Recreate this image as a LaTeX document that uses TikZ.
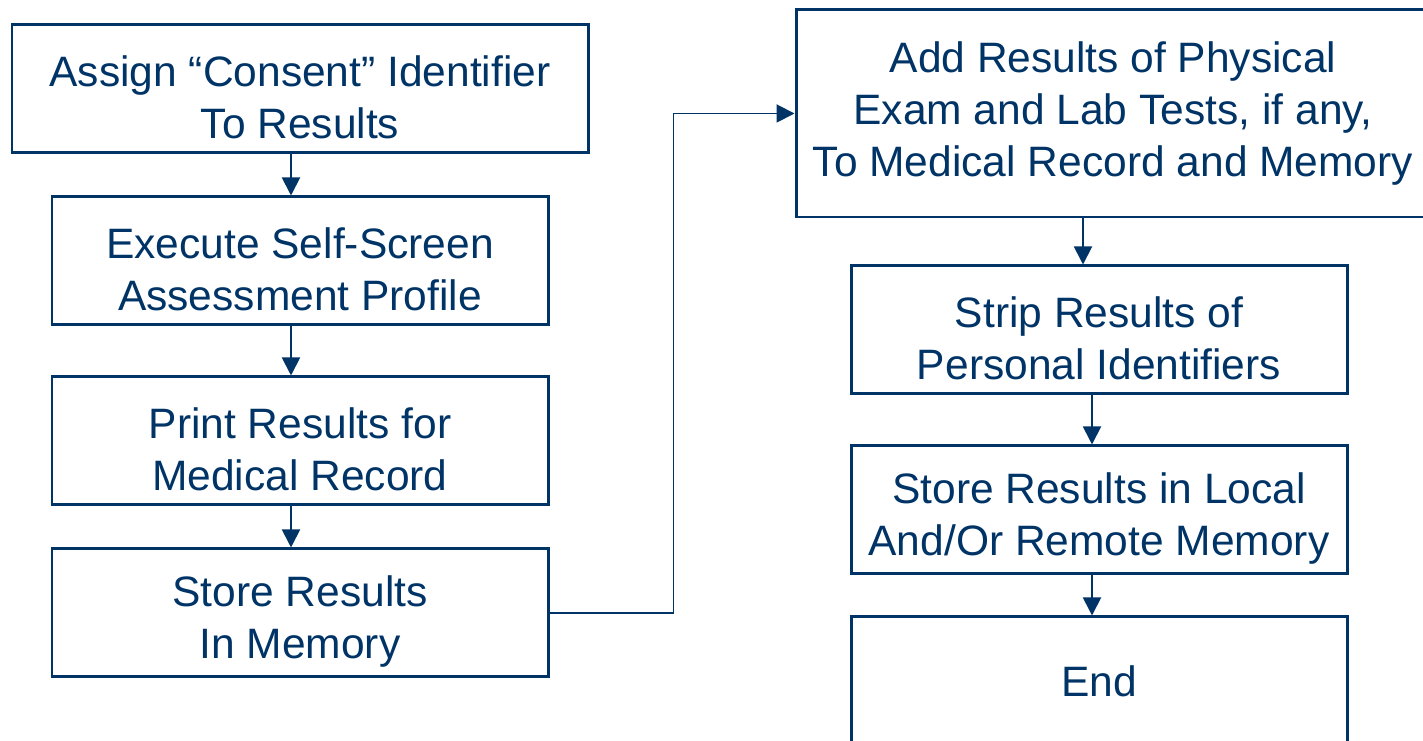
\documentclass[tikz,border=0pt]{standalone}
\usepackage{fontspec}
\setmainfont{Liberation Sans}
\usepackage{xcolor}
\usepackage{tikz}
\usetikzlibrary{arrows.meta, positioning, calc}
\definecolor{flowblue}{RGB}{0, 51, 102}
\newcommand{\lowstrut}{\rule{0pt}{0.95cm}}

\begin{document}
\begin{tikzpicture}[
        flowbox/.style={rectangle, draw=flowblue, line width=1.7pt, text=flowblue, minimum width=9.92cm, minimum height=2.56cm, align=center, inner sep=0pt, font=\fontsize{24.2}{29.6}\selectfont},
        arrow/.style={line width=1.1pt, flowblue, -{Triangle[width=0.36cm, length=0.36cm]}}
    ]
        \useasboundingbox (0,0) rectangle (28.46,-14.82);

        % Left column
        \node (assign) [flowbox, minimum width=11.52cm] at (6.00,-1.78) {\lowstrut Assign \textquotedblleft Consent\textquotedblright{} Identifier\\To Results};
        \node (execute) [flowbox, below=0.82cm of assign] {\lowstrut Execute Self-Screen\\Assessment Profile};
        \node (print) [flowbox, below=0.98cm of execute] {\lowstrut Print Results for\\Medical Record};
        \node (store) [flowbox, below=0.82cm of print] {\lowstrut Store Results\\In Memory};

        % Right column
        \node (add) [flowbox, minimum width=12.68cm, minimum height=4.14cm] at (22.26,-2.27) {Add Results of Physical\\Exam and Lab Tests, if any,\\To Medical Record and Memory};
        \node (strip) [flowbox, below=0.92cm of add, xshift=-0.28cm] {\lowstrut Strip Results of\\Personal Identifiers};
        \node (storelocal) [flowbox, below=0.98cm of strip] {\lowstrut Store Results in Local\\And/Or Remote Memory};
        \node (finish) [flowbox, below=0.80cm of storelocal] {End};

        % Arrows
        \draw [arrow] ([xshift=-0.18cm]execute.north |- assign.south) -- ([xshift=-0.18cm]execute.north);
        \draw [arrow] ([xshift=-0.18cm]execute.south) -- ([xshift=-0.18cm]print.north);
        \draw [arrow] ([xshift=-0.18cm]print.south) -- ([xshift=-0.18cm]store.north);
        \draw [arrow] (store.east) -- ++(2.48,0) |- (add.west);
        \draw [arrow] ([xshift=-0.32cm]strip.north |- add.south) -- ([xshift=-0.32cm]strip.north);
        \draw [arrow] ([xshift=-0.14cm]strip.south) -- ([xshift=-0.14cm]storelocal.north);
        \draw [arrow] ([xshift=-0.14cm]storelocal.south) -- ([xshift=-0.14cm]finish.north);
    \end{tikzpicture}
\end{document}
